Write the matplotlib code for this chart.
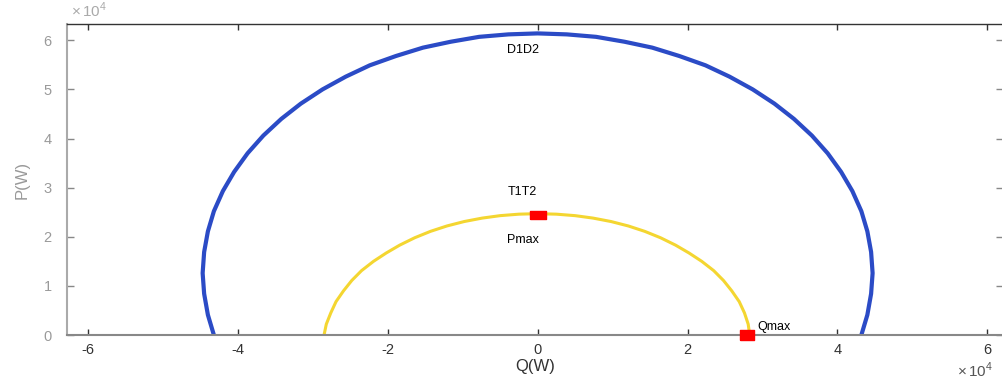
#!/usr/bin/env python3
"""
PQ capability curves: D1D2 (blue) and T1T2 (yellow) with Pmax / Qmax points.
Saves out.png (about 1003x376 px).
"""

import matplotlib
matplotlib.use("Agg")
import matplotlib.pyplot as plt
from matplotlib import ticker
import numpy as np

plt.rcParams["font.family"] = ["Liberation Sans", "DejaVu Sans"]
plt.rcParams["mathtext.fontset"] = "custom"
plt.rcParams["mathtext.rm"] = "Liberation Sans"
plt.rcParams["axes.unicode_minus"] = False

SCALE = 1e4  # values below are read in units of 10^4 W

# D1D2 curve (Q, P), left foot -> top -> right foot
d1d2_q = [-4.32, -4.40, -4.45, -4.47, -4.45, -4.40, -4.32, -4.20, -4.05, -3.87,
          -3.66, -3.42, -3.16, -2.87, -2.56, -2.24, -1.89, -1.53, -1.16, -0.78,
          -0.39, 0.00,
          0.39, 0.78, 1.16, 1.53, 1.89, 2.24, 2.56, 2.87, 3.16, 3.42,
          3.66, 3.87, 4.05, 4.20, 4.32, 4.40, 4.45, 4.47, 4.45, 4.40, 4.32]
d1d2_p = [0.00, 0.41, 0.84, 1.26, 1.69, 2.11, 2.52, 2.93, 3.32, 3.70,
          4.06, 4.40, 4.71, 5.00, 5.26, 5.49, 5.68, 5.85, 5.97, 6.07,
          6.12, 6.14,
          6.12, 6.07, 5.97, 5.85, 5.68, 5.49, 5.26, 5.00, 4.71, 4.40,
          4.06, 3.70, 3.32, 2.93, 2.52, 2.11, 1.69, 1.26, 0.84, 0.41, 0.00]

# T1T2 curve
t1t2_q = [-2.85, -2.82, -2.76, -2.69, -2.59, -2.48, -2.35, -2.19, -2.02, -1.84,
          -1.64, -1.43, -1.21, -0.98, -0.74, -0.50, -0.25, 0.00,
          0.25, 0.50, 0.74, 0.98, 1.21, 1.43, 1.64, 1.84, 2.02,
          2.19, 2.35, 2.48, 2.59, 2.69, 2.76, 2.81, 2.83]
t1t2_p = [0.00, 0.22, 0.45, 0.68, 0.90, 1.11, 1.31, 1.50, 1.67, 1.83,
          1.98, 2.11, 2.22, 2.31, 2.38, 2.43, 2.46, 2.47,
          2.46, 2.43, 2.38, 2.31, 2.22, 2.11, 1.98, 1.83, 1.67,
          1.50, 1.31, 1.11, 0.90, 0.68, 0.45, 0.22, 0.00]

# marked points
pmax_q, pmax_p = 0.0, 2.45
qmax_q, qmax_p = 2.80, 0.0

# labels: (text, Q, P)
labels = [("D1D2", -0.2, 5.81), ("T1T2", -0.2, 2.91), ("Pmax", -0.2, 1.93)]
qmax_label = ("Qmax", 2.93, 0.16)

x_ticks = [-6, -4, -2, 0, 2, 4, 6]
y_ticks = [0, 1, 2, 3, 4, 5, 6]

BLUE = "#2b4bc6"
YELLOW = "#f4d631"
RED = "#ff0000"


def main():
    fig = plt.figure(figsize=(10.03, 3.76), dpi=100)
    ax = fig.add_axes([0.0668, 0.109, 0.9332, 0.827])

    ax.plot(np.array(d1d2_q) * SCALE, np.array(d1d2_p) * SCALE,
            color=BLUE, lw=3.0, solid_capstyle="butt", solid_joinstyle="round")
    ax.plot(np.array(t1t2_q) * SCALE, np.array(t1t2_p) * SCALE,
            color=YELLOW, lw=2.2, solid_capstyle="butt", solid_joinstyle="round")

    # flat rectangular markers
    rect_p = [(-1, -0.55), (1, -0.55), (1, 0.55), (-1, 0.55), (-1, -0.55)]
    rect_q = [(-1, -0.7), (1, -0.7), (1, 0.7), (-1, 0.7), (-1, -0.7)]
    ax.plot([pmax_q * SCALE], [pmax_p * SCALE], ls="none", marker=rect_p,
            ms=11, color=RED, mec=RED, zorder=5)
    ax.plot([qmax_q * SCALE], [qmax_p * SCALE], ls="none", marker=rect_q,
            ms=10.5, color=RED, mec=RED, zorder=5, clip_on=False)

    for txt, q, p in labels:
        ax.text(q * SCALE, p * SCALE, txt, ha="center", va="center",
                fontsize=9, color="black")
    txt, q, p = qmax_label
    ax.text(q * SCALE, p * SCALE, txt, ha="left", va="center",
            fontsize=9, color="black")

    ax.set_xlim(-6.28 * SCALE, 6.21 * SCALE)
    ax.set_ylim(0, 6.33 * SCALE)
    ax.set_xticks(np.array(x_ticks) * SCALE)
    ax.set_yticks(np.array(y_ticks) * SCALE)

    # MATLAB-like labels: plain hyphen minus, exponent shown separately
    tick_fmt = ticker.FuncFormatter(lambda v, pos: f"{v / SCALE:g}")
    ax.xaxis.set_major_formatter(tick_fmt)
    ax.yaxis.set_major_formatter(tick_fmt)

    ax.text(0.004, 1.012, r"$\times\,10^{4}$", transform=ax.transAxes,
            ha="left", va="bottom", fontsize=11, color="#aaaaaa")
    ax.text(0.951, -0.113, r"$\times\,10^{4}$", transform=ax.transAxes,
            ha="left", va="center", fontsize=11, color="#555555",
            clip_on=False)

    ax.tick_params(axis="x", direction="in", top=True, bottom=True,
                   length=4.5, width=1.0, color="#333333",
                   labelsize=10.5, labelcolor="#333333", pad=6)
    ax.tick_params(axis="y", direction="in", left=True, right=True,
                   length=5.0, width=1.0, color="#888888",
                   labelsize=10.5, labelcolor="#9a9a9a", pad=11)

    ax.spines["left"].set_color("#aaaaaa")
    ax.spines["left"].set_linewidth(1.5)
    ax.spines["bottom"].set_color("#888888")
    ax.spines["bottom"].set_linewidth(1.5)
    ax.spines["top"].set_color("#333333")
    ax.spines["top"].set_linewidth(1.0)
    ax.spines["right"].set_color("#333333")
    ax.spines["right"].set_linewidth(1.0)

    ax.set_xlabel("Q(W)", fontsize=12, color="#333333")
    ax.set_ylabel("P(W)", fontsize=12, color="#999999")
    ax.xaxis.set_label_coords(0.5, -0.077)
    ax.yaxis.set_label_coords(-0.0395, 0.5)

    fig.savefig("out.png", dpi=100)
    plt.close(fig)


if __name__ == "__main__":
    main()
